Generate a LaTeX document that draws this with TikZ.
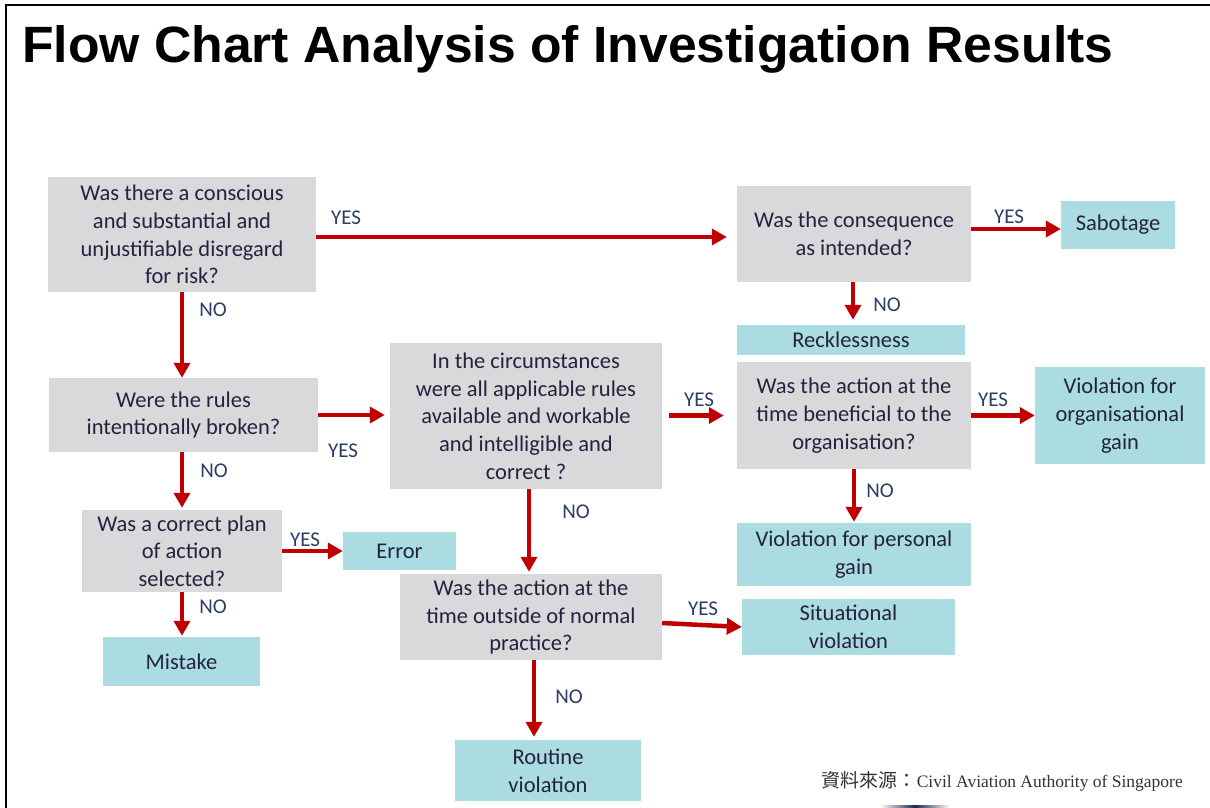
\documentclass[tikz,border=0pt]{standalone}
\usepackage{fontspec}
\setmainfont{Carlito}
\newfontfamily\titlefont{Liberation Sans}
\newfontfamily\cjkfont{Noto Sans CJK TC}
\newfontfamily\seriffont{Liberation Serif}
\usetikzlibrary{arrows.meta,calc}
\definecolor{boxgray}{HTML}{D9D9DB}
\definecolor{boxteal}{HTML}{ABDCE1}
\definecolor{arrred}{HTML}{C00000}
\definecolor{txt}{HTML}{23233F}
\definecolor{lbl}{HTML}{2E3D66}
\definecolor{navy}{HTML}{1B2A44}
\tikzset{
  gbox/.style={fill=boxgray, inner sep=0pt, align=center, text=txt,
    font=\fontsize{22.5}{27.7}\selectfont},
  tbox/.style={gbox, fill=boxteal},
  arr/.style={draw=arrred, line width=4.5pt, -{Triangle[length=15pt,width=16pt]}},
  lab/.style={text=lbl, inner sep=0pt, font=\fontsize{21}{22}\selectfont}
}
\begin{document}
\begin{tikzpicture}[x=1pt,y=-1pt]
\useasboundingbox (0,0) rectangle (1210,808);
\fill[white] (0,0) rectangle (1210,808);
% frame
\draw[line width=2.5pt, black] (6,808) -- (6,5) -- (1210,5);
% title
\node[anchor=base west, inner sep=0pt] (title) at (22,63)
  {\resizebox{1091pt}{37pt}{\titlefont\bfseries Flow Chart Analysis of Investigation Results}};
% boxes
\node[gbox, minimum width=268pt, minimum height=115pt] (q1) at (182,234.5)
  {Was there a conscious\\and substantial and\\unjustifiable disregard\\for risk?};
\node[gbox, minimum width=234pt, minimum height=96pt] (q2) at (854,234)
  {Was the consequence\\as intended?};
\node[tbox, minimum width=114pt, minimum height=48pt] (sab) at (1118,225) {Sabotage};
\node[tbox, minimum width=228pt, minimum height=30pt] (reck) at (851,340) {Recklessness};
\node[gbox, minimum width=269pt, minimum height=74pt] (q3) at (183.5,415)
  {Were the rules\\intentionally broken?};
\node[gbox, minimum width=272pt, minimum height=146pt] (q4) at (526,416)
  {In the circumstances\\were all applicable rules\\available and workable\\and intelligible and\\correct ?};
\node[gbox, minimum width=234pt, minimum height=107pt] (q5) at (854,415.5)
  {Was the action at the\\time beneficial to the\\organisation?};
\node[tbox, minimum width=170pt, minimum height=97pt] (vog) at (1120,415.5)
  {Violation for\\organisational\\gain};
\node[tbox, minimum width=234pt, minimum height=63pt] (vpg) at (854,554.5)
  {Violation for personal\\gain};
\node[gbox, minimum width=200pt, minimum height=82pt] (q6) at (182,551)
  {Was a correct plan\\of action\\selected?};
\node[tbox, minimum width=113pt, minimum height=38pt] (err) at (399.5,551) {Error};
\node[tbox, minimum width=157pt, minimum height=49pt] (mis) at (181.5,661.5) {Mistake};
\node[gbox, minimum width=262pt, minimum height=86pt] (q7) at (531,617)
  {Was the action at the\\time outside of normal\\practice?};
\node[tbox, minimum width=213pt, minimum height=56pt] (sitv) at (848.5,627)
  {Situational\\violation};
\node[tbox, minimum width=186pt, minimum height=61pt] (rout) at (548,770.5)
  {Routine\\violation};
% arrows
\draw[arr, shorten >=10pt] ($(q1.east)+(0,2.5)$) -- ($(q2.west)+(0,3)$);
\draw[arr] ($(q2.east)+(0,-5)$) -- ($(sab.west)+(0,4)$);
\draw[arr, shorten >=5pt] ($(q2.south)+(-1,0)$) -- ($(reck.north)+(2,0)$);
\draw[arr] (q1.south) -- (q1.south |- q3.north);
\draw[arr, shorten >=5pt] (q3.east) -- (q3.east -| q4.west);
\draw[arr, shorten >=2pt] (q3.south -| q6.north) -- (q6.north);
\draw[arr, shorten <=7pt, shorten >=13pt] (q4.east |- q5.west) -- (q5.west);
\draw[arr, shorten >=2pt] ($(q4.south)+(3,0)$) -- ($(q4.south |- q7.north)+(3,0)$);
\draw[arr] (q5.east) -- (vog.west);
\draw[arr, shorten >=1pt] (q5.south) -- (vpg.north);
\draw[arr] (q6.east) -- (err.west);
\draw[arr, shorten >=1pt] (q6.south) -- (q6.south |- mis.north);
\draw[arr] ($(q7.east)+(0,6)$) -- (sitv.west);
\draw[arr, shorten >=3pt] ($(q7.south)+(3,0)$) -- ($(q7.south |- rout.north)+(3,0)$);
% labels
\node[lab] (y1) at (346,218) {YES};
\node[lab] (n1) at (213,310) {NO};
\node[lab] (y2) at (1009,217) {YES};
\node[lab] (n2) at (887,305) {NO};
\node[lab] (y3) at (343,451) {YES};
\node[lab] (n3) at (214,471) {NO};
\node[lab] (y4) at (699,400) {YES};
\node[lab] (n4) at (576,512) {NO};
\node[lab] (y5) at (993,400) {YES};
\node[lab] (n5) at (880,491) {NO};
\node[lab] (y6) at (305,540) {YES};
\node[lab] (n6) at (213,607) {NO};
\node[lab] (y7) at (703,609) {YES};
\node[lab] (n7) at (569,697) {NO};
% source
\node[anchor=base east, inner sep=0pt, text=black!80] (src) at (1183,787)
  {{\cjkfont\fontsize{19}{20}\selectfont 資料來源：}{\seriffont\fontsize{17.5}{20}\selectfont Civil Aviation Authority of Singapore}};
% swoosh
\shade[left color=white, right color=white, middle color=navy] (880,805) rectangle (950,808);
\end{tikzpicture}
\end{document}
